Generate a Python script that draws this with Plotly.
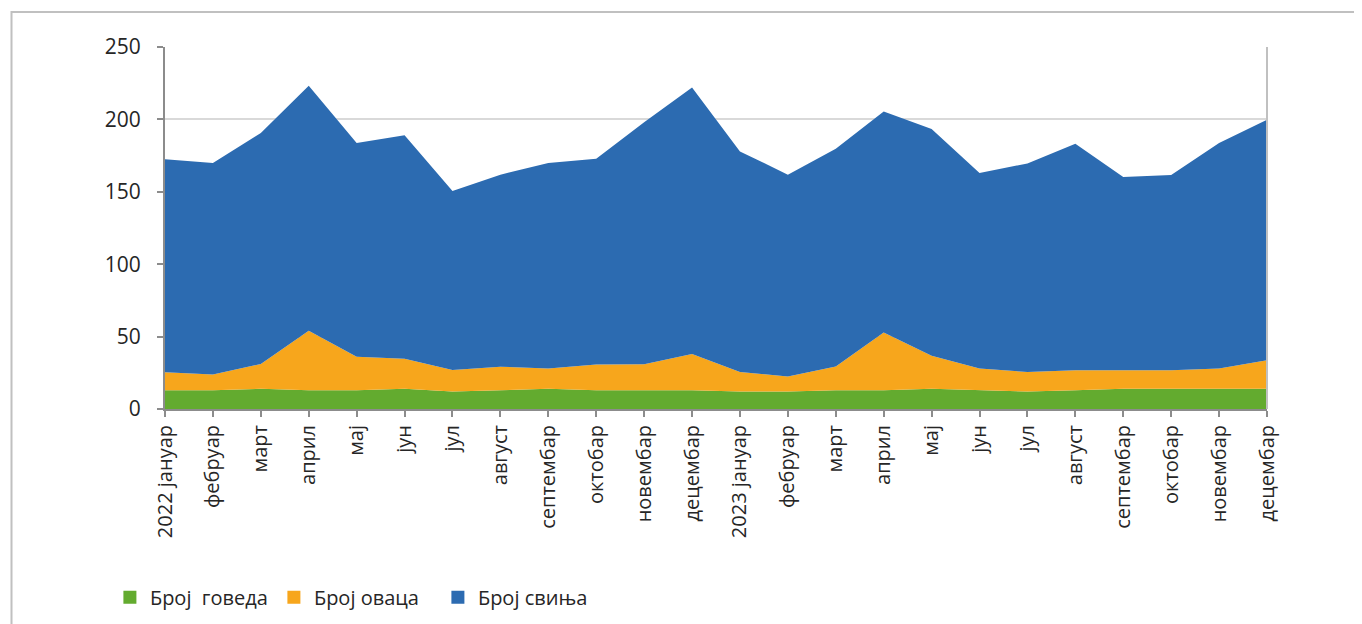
import plotly.graph_objects as go

months = ["2022 јануар", "фебруар", "март", "април", "мај", "јун", "јул", "август",
          "септембар", "октобар", "новембар", "децембар",
          "2023 јануар", "фебруар", "март", "април", "мај", "јун", "јул", "август",
          "септембар", "октобар", "новембар", "децембар"]

cattle = [13, 13, 14, 13, 13, 14, 12, 13, 14, 13, 13, 13,
          12, 12, 13, 13, 14, 13, 12, 13, 14, 14, 14, 14]
sheep = [12.3, 10.9, 17.1, 41.1, 23.1, 20.7, 14.9, 16.2, 14.0, 17.8, 17.9, 25.0,
         13.5, 10.5, 16.4, 39.9, 22.8, 15.0, 13.5, 13.7, 12.7, 12.7, 14.0, 19.6]
pigs = [147.1, 146.0, 159.5, 169.2, 147.6, 154.3, 123.7, 132.6, 141.9, 142.1, 167.1, 184.1,
        152.4, 139.3, 150.4, 152.6, 156.6, 135.0, 144.1, 156.5, 133.5, 134.9, 155.7, 166.2]

series_names = ["Број  говеда", "Број оваца", "Број свиња"]
colors = ["#63AB2F", "#F7A61C", "#2C6BB1"]

x = list(range(len(months)))
fig = go.Figure()
for name, vals, col in zip(series_names, [cattle, sheep, pigs], colors):
    fig.add_trace(go.Scatter(
        x=x, y=vals, stackgroup="one", mode="lines", name=name,
        line=dict(width=0, color=col), fillcolor=col, showlegend=False,
        hoverinfo="skip"))
for name, col in zip(series_names, colors):
    fig.add_trace(go.Scatter(
        x=[None], y=[None], mode="markers", name=name,
        marker=dict(symbol="square", size=13, color=col)))

FONT = "Open Sans"
# page body has an 8px margin, so the figure is 8px smaller and offset
W, H = 1354, 616
L, T, R = 157, 39, 95
B = H - T - 362
fig.update_layout(
    width=W, height=H,
    margin=dict(l=L, r=R, t=T, b=B, autoexpand=False),
    paper_bgcolor="white", plot_bgcolor="white",
    font=dict(family=FONT, size=20, color="#404040"),
    legend=dict(orientation="h", x=-0.05, xanchor="left", y=-0.52, yanchor="middle",
                traceorder="normal", entrywidth=119, entrywidthmode="pixels",
                font=dict(family=FONT, size=20, color="#262626"),
                itemclick=False, itemdoubleclick=False),
    xaxis=dict(
        range=[0, 23], tickmode="array", tickvals=x, ticktext=months,
        tickangle=-90, ticks="outside", ticklen=6, tickcolor="#8c8c8c", tickwidth=1.5,
        showline=True, linecolor="#8c8c8c", linewidth=2, showgrid=False,
        zeroline=False, tickfont=dict(family=FONT, size=20, color="#262626")),
    yaxis=dict(
        range=[0, 250], dtick=50, ticks="outside", ticklen=6, tickcolor="#8c8c8c",
        tickwidth=1.5, showline=True, linecolor="#8c8c8c", linewidth=2,
        showgrid=True, gridcolor="#d9d9d9", gridwidth=1.5, zeroline=False,
        ticklabelstandoff=12,
        tickfont=dict(family=FONT, size=21, color="#262626")),
    shapes=[
        dict(type="line", xref="paper", yref="paper", x0=1, x1=1, y0=0, y1=1,
             line=dict(color="#c0c0c0", width=2), layer="above"),
        dict(type="rect", xref="paper", yref="paper",
             x0=(11.5 - 165) / 1102, x1=(1420 - 165) / 1102,
             y0=(409 - 700) / 362, y1=(409 - 12) / 362,
             line=dict(color="#c0c0c0", width=2), fillcolor="rgba(0,0,0,0)"),
    ],
)

fig.write_html("out.html")
